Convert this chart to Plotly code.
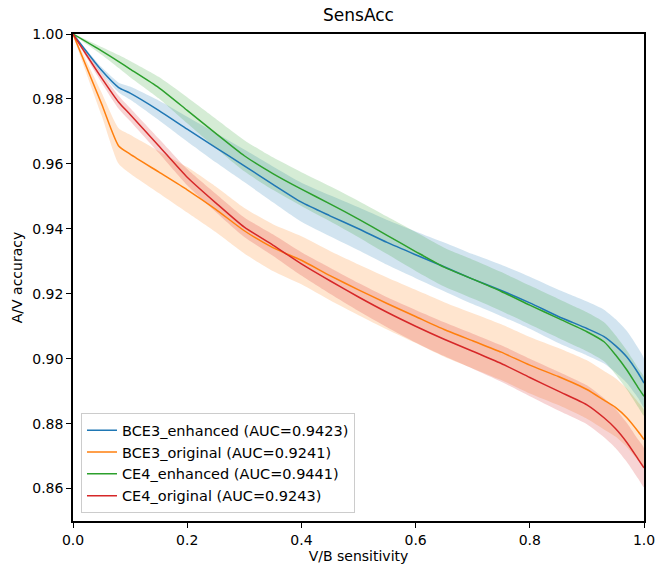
import plotly.graph_objects as go

sensitivity = [0.0, 0.05, 0.08, 0.10, 0.15, 0.20, 0.25, 0.30, 0.35, 0.40, 0.45, 0.50, 0.55,
               0.60, 0.65, 0.70, 0.75, 0.80, 0.85, 0.90, 0.93, 0.95, 0.97, 0.99, 1.00]

bce3_enhanced = [1.0, 0.9888, 0.9835, 0.9818, 0.9765, 0.9707, 0.9650, 0.9594, 0.9537, 0.9482, 0.9440, 0.9400, 0.9358,
                 0.9320, 0.9283, 0.9245, 0.9210, 0.9172, 0.9130, 0.9093, 0.9068, 0.9040, 0.9005, 0.8955, 0.8925]
bce3_original = [1.0, 0.9785, 0.9655, 0.9630, 0.9575, 0.9520, 0.9460, 0.9394, 0.9342, 0.9303, 0.9256, 0.9212, 0.9170,
                 0.9130, 0.9090, 0.9055, 0.9020, 0.8980, 0.8945, 0.8905, 0.8872, 0.8850, 0.8818, 0.8775, 0.8751]
ce4_enhanced = [1.0, 0.9948, 0.9915, 0.9892, 0.9835, 0.9765, 0.9694, 0.9625, 0.9570, 0.9522, 0.9477, 0.9430, 0.9380,
                0.9330, 0.9282, 0.9245, 0.9207, 0.9165, 0.9124, 0.9083, 0.9052, 0.9012, 0.8965, 0.8910, 0.8884]
ce4_original = [1.0, 0.9865, 0.9790, 0.9752, 0.9656, 0.9559, 0.9480, 0.9405, 0.9350, 0.9292, 0.9240, 0.9190, 0.9143,
                0.9100, 0.9060, 0.9023, 0.8985, 0.8942, 0.8900, 0.8858, 0.8818, 0.8785, 0.8742, 0.8690, 0.8664]

bce3_enhanced_std = [0, 0.001, 0.0015, 0.002, 0.003, 0.0038, 0.0045, 0.005, 0.0055, 0.006, 0.0063, 0.0066, 0.0069,
                     0.0072, 0.0075, 0.0077, 0.0079, 0.008, 0.0082, 0.0083, 0.0083, 0.0082, 0.008, 0.0077, 0.0075]
bce3_original_std = [0, 0.0035, 0.0055, 0.006, 0.0065, 0.007, 0.007, 0.007, 0.0072, 0.0074, 0.0076, 0.0078, 0.008,
                     0.0082, 0.0084, 0.0085, 0.0086, 0.0087, 0.0088, 0.009, 0.009, 0.009, 0.009, 0.009, 0.009]
ce4_enhanced_std = [0, 0.0012, 0.002, 0.0025, 0.0033, 0.004, 0.0045, 0.0048, 0.005, 0.0052, 0.0054, 0.0056, 0.0058,
                    0.006, 0.006, 0.006, 0.006, 0.006, 0.006, 0.006, 0.006, 0.006, 0.006, 0.006, 0.006]
ce4_original_std = [0, 0.0015, 0.002, 0.002, 0.0022, 0.0025, 0.0028, 0.003, 0.0033, 0.0036, 0.004, 0.0043, 0.0046,
                    0.005, 0.0052, 0.0054, 0.0056, 0.0058, 0.006, 0.006, 0.006, 0.006, 0.006, 0.006, 0.006]

names = ["BCE3_enhanced (AUC=0.9423)", "BCE3_original (AUC=0.9241)",
         "CE4_enhanced (AUC=0.9441)", "CE4_original (AUC=0.9243)"]
colors = ["#1f77b4", "#ff7f0e", "#2ca02c", "#d62728"]
fills = ["rgba(31,119,180,0.2)", "rgba(255,127,14,0.2)", "rgba(44,160,44,0.2)", "rgba(214,39,40,0.2)"]

series = [bce3_enhanced, bce3_original, ce4_enhanced, ce4_original]
stds = [bce3_enhanced_std, bce3_original_std, ce4_enhanced_std, ce4_original_std]

fig = go.Figure()
for vals, sd, fc in zip(series, stds, fills):
    upper = [v + s for v, s in zip(vals, sd)]
    lower = [v - s for v, s in zip(vals, sd)]
    fig.add_trace(go.Scatter(
        x=sensitivity + sensitivity[::-1], y=upper + lower[::-1],
        fill="toself", fillcolor=fc, line=dict(width=0, shape="spline", smoothing=0.6),
        mode="lines", showlegend=False, hoverinfo="skip"))
for vals, name, c in zip(series, names, colors):
    fig.add_trace(go.Scatter(x=sensitivity, y=vals, mode="lines", name=name,
                             line=dict(color=c, width=1.5, shape="spline", smoothing=0.6)))

font = "DejaVu Sans, sans-serif"
axis_common = dict(showline=True, linecolor="black", linewidth=1.5, mirror=True,
                   ticks="outside", ticklen=5, tickwidth=1.3, tickcolor="black",
                   showgrid=False, zeroline=False, automargin=False,
                   tickfont=dict(family=font, size=14, color="black"))

fig.update_layout(
    width=656, height=564,
    margin=dict(l=73, r=12, t=34, b=43),
    paper_bgcolor="white", plot_bgcolor="white",
    title=dict(text="SensAcc", x=0.5, xref="paper", xanchor="center", y=0.973, yanchor="middle",
               font=dict(family=font, size=17, color="black")),
    xaxis=dict(range=[0, 1], tickvals=[0, 0.2, 0.4, 0.6, 0.8, 1.0], tickformat=".1f",
               title=dict(text="V/B sensitivity", standoff=4,
                          font=dict(family=font, size=14, color="black")),
               **axis_common),
    yaxis=dict(range=[0.85, 1.0], tickvals=[0.86, 0.88, 0.90, 0.92, 0.94, 0.96, 0.98, 1.00],
               tickformat=".2f",
               title=dict(text="A/V accuracy", standoff=6,
                          font=dict(family=font, size=14, color="black")),
               **axis_common),
    legend=dict(x=0.014, y=0.016, xanchor="left", yanchor="bottom",
                bgcolor="rgba(255,255,255,0.8)", bordercolor="#cccccc", borderwidth=1,
                font=dict(family=font, size=14.5, color="black"),
                itemwidth=30, tracegroupgap=0),
    showlegend=True,
)

fig.write_html("out.html", config={"displayModeBar": False},
               post_script="document.body.style.margin='0';")
